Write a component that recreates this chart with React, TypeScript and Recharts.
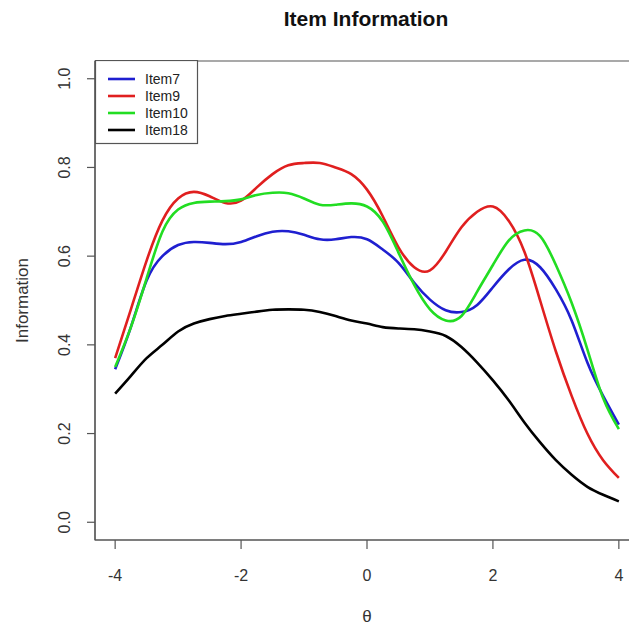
import React from 'react';
import { LineChart, Line, XAxis, YAxis, ReferenceArea } from 'recharts';

const thetas = [
    -4, -3.75, -3.5, -3.25, -3, -2.75, -2.5, -2.25, -2, -1.75, -1.5, -1.25, -1, -0.75, -0.5, -0.25,
    0, 0.25, 0.5, 0.75, 1, 1.25, 1.5, 1.75, 2, 2.25, 2.5, 2.75, 3, 3.25, 3.5, 3.75, 4,
];

const item7 = [
    0.345, 0.44, 0.545, 0.6, 0.625, 0.632, 0.63, 0.627, 0.632, 0.645, 0.655, 0.656, 0.648, 0.638, 0.638, 0.643,
    0.638, 0.615, 0.585, 0.54, 0.502, 0.478, 0.474, 0.49, 0.53, 0.57, 0.592, 0.575, 0.525, 0.455, 0.36, 0.285, 0.22,
];
const item9 = [
    0.37, 0.48, 0.59, 0.68, 0.73, 0.745, 0.735, 0.72, 0.725, 0.755, 0.785, 0.805, 0.81, 0.81, 0.8, 0.785,
    0.75, 0.69, 0.62, 0.575, 0.568, 0.61, 0.665, 0.7, 0.712, 0.68, 0.61, 0.5, 0.385, 0.285, 0.2, 0.14, 0.1,
];
const item10 = [
    0.35, 0.44, 0.55, 0.655, 0.705, 0.72, 0.723, 0.724, 0.728, 0.738, 0.743, 0.742, 0.73, 0.716, 0.716, 0.719,
    0.712, 0.678, 0.608, 0.535, 0.48, 0.455, 0.465, 0.52, 0.58, 0.635, 0.658, 0.645, 0.58, 0.495, 0.39, 0.28, 0.21,
];
const item18 = [
    0.29, 0.33, 0.37, 0.4, 0.43, 0.448, 0.458, 0.465, 0.47, 0.475, 0.479, 0.48, 0.479, 0.474, 0.465, 0.455,
    0.448, 0.44, 0.437, 0.435, 0.43, 0.42, 0.395, 0.36, 0.32, 0.275, 0.225, 0.18, 0.14, 0.107, 0.08, 0.062, 0.047,
];

const xTicks = [-4, -2, 0, 2, 4];
const yTicks = [0, 0.2, 0.4, 0.6, 0.8, 1.0];

const series = [
    { key: 'Item7', values: item7, color: '#1f1fd0' },
    { key: 'Item9', values: item9, color: '#e01f1f' },
    { key: 'Item10', values: item10, color: '#22dd22' },
    { key: 'Item18', values: item18, color: '#000000' },
];

const data = thetas.map((t, i) => {
    const row: Record<string, number> = { theta: t };
    series.forEach((s) => { row[s.key] = s.values[i]; });
    return row;
});

const FONT = '"Liberation Sans", Arial, sans-serif';
const AXIS = '#555555';

const YTick = (props: any) => {
    const { x, y, payload } = props;
    const cx = x - 20;
    return (
        <text x={cx} y={y} transform={`rotate(-90 ${cx} ${y})`} textAnchor="middle" dominantBaseline="central"
            fontFamily={FONT} fontSize={16} fill="#333">
            {Number(payload.value).toFixed(1)}
        </text>
    );
};

const YLabel = (props: any) => {
    const vb = props.viewBox || { x: 0, y: 61, width: 95, height: 479 };
    const cy = vb.y + vb.height / 2;
    return (
        <text x={22} y={cy} transform={`rotate(-90 22 ${cy})`} textAnchor="middle" dominantBaseline="central"
            fontFamily={FONT} fontSize={17} fill="#333">
            Information
        </text>
    );
};

// legend box drawn from the series list (R's legend keeps series order)
const LegendBox = () => (
    <svg width={104} height={85} style={{ position: 'absolute', left: 95, top: 60, display: 'block' }}>
        <rect x={0.5} y={0.5} width={102} height={83} fill="#fff" stroke={AXIS} strokeWidth={1.2} />
        {series.map((s, i) => (
            <g key={s.key}>
                <line x1={13} x2={40} y1={19 + i * 17} y2={19 + i * 17} stroke={s.color} strokeWidth={2.6} />
                <text x={50} y={19 + i * 17} dominantBaseline="central" fontFamily={FONT} fontSize={14} fill="#222">
                    {s.key}
                </text>
            </g>
        ))}
    </svg>
);

export default function App() {
    return (
        <div style={{ position: 'fixed', left: 0, top: 0, width: 629, height: 626, overflow: 'hidden', background: '#fff' }}>
            <div style={{ position: 'absolute', left: 0, top: 0, width: 732, textAlign: 'center', fontFamily: FONT,
                fontWeight: 'bold', fontSize: 21, lineHeight: '21px', paddingTop: 8, color: '#111' }}>
                Item Information
            </div>
            <LineChart width={660} height={626} data={data} margin={{ top: 61, right: 21, bottom: 0, left: 0 }}>
                <XAxis
                    dataKey="theta"
                    type="number"
                    domain={[-4.32, 4.32]}
                    ticks={xTicks}
                    allowDataOverflow
                    height={86}
                    tickSize={9}
                    tickMargin={21}
                    axisLine={{ stroke: AXIS, strokeWidth: 1.2 }}
                    tickLine={{ stroke: AXIS, strokeWidth: 1.2 }}
                    tick={{ fontFamily: FONT, fontSize: 16, fill: '#333' }}
                    label={{ value: 'θ', position: 'insideBottom', offset: 4, fontFamily: FONT, fontSize: 17, fill: '#333' }}
                />
                <YAxis
                    type="number"
                    domain={[-0.04, 1.04]}
                    ticks={yTicks}
                    allowDataOverflow
                    width={95}
                    tickSize={8}
                    axisLine={{ stroke: AXIS, strokeWidth: 1.2 }}
                    tickLine={{ stroke: AXIS, strokeWidth: 1.2 }}
                    tick={<YTick />}
                    label={YLabel}
                />
                <ReferenceArea x1={-4.32} x2={4.32} y1={-0.04} y2={1.04} fill="none" stroke={AXIS} strokeWidth={1.2} ifOverflow="visible" />
                {series.map((s) => (
                    <Line key={s.key} dataKey={s.key} name={s.key} type="natural" stroke={s.color} strokeWidth={2.6}
                        dot={false} activeDot={false} isAnimationActive={false} />
                ))}
            </LineChart>
            <LegendBox />
        </div>
    );
}
